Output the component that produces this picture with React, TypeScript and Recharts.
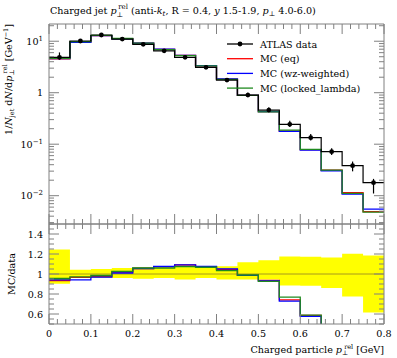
import React from 'react';
import { ComposedChart, Line, Scatter, ErrorBar, Area, XAxis, YAxis, ReferenceLine } from 'recharts';

// bin edges of the p_T^rel histogram [GeV]
const binEdges = [0, 0.05, 0.1, 0.15, 0.2, 0.25, 0.3, 0.35, 0.4, 0.45, 0.5, 0.55, 0.6, 0.65, 0.7, 0.75, 0.8];

// ATLAS data, with relative errors
const atlasValues = [4.87, 10.1, 13.2, 11.0, 8.7, 6.5, 4.87, 3.11, 1.76, 0.9, 0.46, 0.243, 0.134, 0.0715, 0.0383, 0.0179];
const atlasRelErrUp = [0.245, 0.043, 0.05, 0.06, 0.067, 0.06, 0.087, 0.077, 0.077, 0.117, 0.137, 0.175, 0.172, 0.165, 0.202, 0.185];
const atlasRelErrDown = [0.098, 0.04, 0.034, 0.04, 0.047, 0.04, 0.056, 0.04, 0.056, 0.056, 0.056, 0.114, 0.117, 0.14, 0.224, 0.384];

// MC predictions
const mcEq = [4.55, 9.75, 12.87, 11.22, 9.18, 6.96, 5.31, 3.33, 1.84, 0.887, 0.43, 0.18, 0.0784, 0.0312, 0.0114, 0.0049];
const mcWz = [4.58, 9.51, 12.8, 11.11, 9.18, 6.99, 5.31, 3.35, 1.85, 0.887, 0.428, 0.177, 0.0772, 0.0305, 0.0107, 0.0055];
const mcLocked = [4.65, 9.8, 13.0, 11.29, 9.22, 6.89, 5.23, 3.32, 1.82, 0.891, 0.426, 0.187, 0.079, 0.0315, 0.0111, 0.0048];

// ticks
const xMajorTicks = [0, 0.1, 0.2, 0.3, 0.4, 0.5, 0.6, 0.7, 0.8];
const xTickLabels = ['0', '0.1', '0.2', '0.3', '0.4', '0.5', '0.6', '0.7', '0.8'];
const yMainMajorTicks = [0.01, 0.1, 1, 10];
const yMainTickLabels = [['10', '−2'], ['10', '−1'], ['1', ''], ['10', '1']];
const yRatioMajorTicks = [0.6, 0.8, 1, 1.2, 1.4];
const yRatioTickLabels = ['0.6', '0.8', '1', '1.2', '1.4'];

const FONT = '"DejaVu Serif", serif';
const FS = 9.6;
const FRAME = '#808080';
const MAIN_DOMAIN: [number, number] = [0.00282, 21.6];
const RATIO_DOMAIN: [number, number] = [0.5, 1.5];

const xAllTicks: number[] = [];
for (let i = 0; i <= 40; i++) xAllTicks.push(Math.round(i * 2) / 100);
const yMainAllTicks: number[] = [];
for (let k = -3; k <= 1; k++) {
  for (let m = 1; m <= 9; m++) {
    const v = parseFloat((m * Math.pow(10, k)).toPrecision(3));
    if (v >= MAIN_DOMAIN[0] && v <= MAIN_DOMAIN[1]) yMainAllTicks.push(v);
  }
}
const yRatioAllTicks: number[] = [];
for (let i = 10; i <= 30; i++) yRatioAllTicks.push(i * 5 / 100);

const near = (a: number, b: number) => Math.abs(a - b) < 1e-6 * Math.max(1, Math.abs(b));

// one row per bin edge, last edge repeats the last bin so steps close
const stepRows = binEdges.map((x, i) => {
  const j = Math.min(i, atlasValues.length - 1);
  return {
    x,
    data: atlasValues[j],
    eq: mcEq[j],
    wz: mcWz[j],
    locked: mcLocked[j],
    rEq: mcEq[j] / atlasValues[j],
    rWz: mcWz[j] / atlasValues[j],
    rLocked: mcLocked[j] / atlasValues[j],
    band: [1 - atlasRelErrDown[j], 1 + atlasRelErrUp[j]],
  };
});

const points = atlasValues.map((v, i) => ({
  x: (binEdges[i] + binEdges[i + 1]) / 2,
  y: v,
  err: [v * atlasRelErrDown[i], v * atlasRelErrUp[i]],
}));

function makeXTick(side: 'top' | 'bottom', labels: boolean) {
  return (props: any) => {
    const { x, y, payload } = props;
    const idx = xMajorTicks.findIndex((t) => near(payload.value, t));
    const len = idx >= 0 ? 10 : 5;
    const y2 = side === 'bottom' ? y - len : y + len;
    return (
      <g>
        <line x1={x} x2={x} y1={y} y2={y2} stroke={FRAME} />
        {labels && idx >= 0 && (
          <text x={x} y={y + 13} textAnchor="middle" fontSize={FS} fontFamily={FONT} fill="#000">
            {xTickLabels[idx]}
          </text>
        )}
      </g>
    );
  };
}

function makeYTick(side: 'left' | 'right', kind: 'main' | 'ratio', labels: boolean) {
  return (props: any) => {
    const { x, y, payload } = props;
    const majors = kind === 'main' ? yMainMajorTicks : yRatioMajorTicks;
    const idx = majors.findIndex((t) => near(payload.value, t));
    const len = idx >= 0 ? 10 : 5;
    const x2 = side === 'left' ? x + len : x - len;
    let label: React.ReactNode = null;
    if (labels && idx >= 0) {
      if (kind === 'main') {
        const [base, exp] = yMainTickLabels[idx];
        label = (
          <text x={x - 6} y={y + 3.5} textAnchor="end" fontSize={FS} fontFamily={FONT} fill="#000">
            {base}
            {exp && (
              <tspan dy={-4} fontSize={7}>
                {exp}
              </tspan>
            )}
          </text>
        );
      } else {
        label = (
          <text x={x - 6} y={y + 3.5} textAnchor="end" fontSize={FS} fontFamily={FONT} fill="#000">
            {yRatioTickLabels[idx]}
          </text>
        );
      }
    }
    return (
      <g>
        <line x1={x} x2={x2} y1={y} y2={y} stroke={FRAME} />
        {label}
      </g>
    );
  };
}

const axisCommon = { tickSize: 0, tickMargin: 0, interval: 0 as const, tickLine: false, axisLine: { stroke: FRAME } };

export default function App() {
  const legend = [
    { label: 'ATLAS data', color: '#000', dot: true },
    { label: 'MC (eq)', color: '#ff0000', dot: false },
    { label: 'MC (wz-weighted)', color: '#0000ff', dot: false },
    { label: 'MC (locked_lambda)', color: '#1f8a1f', dot: false },
  ];

  return (
    <div style={{ position: 'absolute', left: 0, top: 0, width: 397, height: 358, background: '#fff' }}>
      {/* main panel */}
      <div style={{ position: 'absolute', left: 0, top: 0 }}>
        <ComposedChart width={397} height={358} data={stepRows} margin={{ top: 23, left: 19, right: 12, bottom: 133 }}>
          <XAxis xAxisId="x" dataKey="x" type="number" domain={[0, 0.8]} ticks={xAllTicks} height={1}
            {...axisCommon} tick={makeXTick('bottom', false)} />
          <XAxis xAxisId="xt" dataKey="x" type="number" domain={[0, 0.8]} ticks={xAllTicks} height={1} orientation="top"
            {...axisCommon} tick={makeXTick('top', false)} />
          <YAxis yAxisId="y" type="number" scale="log" domain={MAIN_DOMAIN} allowDataOverflow ticks={yMainAllTicks} width={30}
            {...axisCommon} tick={makeYTick('left', 'main', true)} />
          <YAxis yAxisId="yr" type="number" scale="log" domain={MAIN_DOMAIN} allowDataOverflow ticks={yMainAllTicks} width={1} orientation="right"
            {...axisCommon} tick={makeYTick('right', 'main', false)} />
          <Line xAxisId="x" yAxisId="y" type="stepAfter" dataKey="eq" stroke="#ff0000" strokeWidth={1.3} dot={false} isAnimationActive={false} />
          <Line xAxisId="x" yAxisId="y" type="stepAfter" dataKey="wz" stroke="#0000ff" strokeWidth={1.3} dot={false} isAnimationActive={false} />
          <Line xAxisId="x" yAxisId="y" type="stepAfter" dataKey="locked" stroke="#1f8a1f" strokeWidth={1.3} dot={false} isAnimationActive={false} />
          <Line xAxisId="x" yAxisId="y" type="stepAfter" dataKey="data" stroke="#000" strokeWidth={1.2} dot={false} isAnimationActive={false} />
          <Scatter xAxisId="x" yAxisId="y" data={points} dataKey="y" isAnimationActive={false}
            shape={(p: any) => <circle cx={p.cx} cy={p.cy} r={2.4} fill="#000" />}>
            <ErrorBar dataKey="err" direction="y" width={0} stroke="#000" strokeWidth={1.2} isAnimationActive={false} />
          </Scatter>
        </ComposedChart>
      </div>

      {/* ratio panel */}
      <div style={{ position: 'absolute', left: 0, top: 0 }}>
        <ComposedChart width={397} height={358} data={stepRows} margin={{ top: 223, left: 19, right: 12, bottom: 33 }}>
          <XAxis xAxisId="x" dataKey="x" type="number" domain={[0, 0.8]} ticks={xAllTicks} height={1}
            {...axisCommon} tick={makeXTick('bottom', true)} />
          <XAxis xAxisId="xt" dataKey="x" type="number" domain={[0, 0.8]} ticks={xAllTicks} height={1} orientation="top"
            {...axisCommon} tick={makeXTick('top', false)} />
          <YAxis yAxisId="y" type="number" domain={RATIO_DOMAIN} allowDataOverflow ticks={yRatioAllTicks} width={30}
            {...axisCommon} tick={makeYTick('left', 'ratio', true)} />
          <YAxis yAxisId="yr" type="number" domain={RATIO_DOMAIN} allowDataOverflow ticks={yRatioAllTicks} width={1} orientation="right"
            {...axisCommon} tick={makeYTick('right', 'ratio', false)} />
          <Area xAxisId="x" yAxisId="y" type="stepAfter" dataKey="band" fill="#ffff00" fillOpacity={1} stroke="none" isAnimationActive={false} />
          <ReferenceLine xAxisId="x" yAxisId="y" y={1} stroke="#a69a1c" strokeWidth={1} />
          <Line xAxisId="x" yAxisId="y" type="stepAfter" dataKey="rEq" stroke="#ff0000" strokeWidth={1.3} dot={false} isAnimationActive={false} />
          <Line xAxisId="x" yAxisId="y" type="stepAfter" dataKey="rWz" stroke="#0000ff" strokeWidth={1.3} dot={false} isAnimationActive={false} />
          <Line xAxisId="x" yAxisId="y" type="stepAfter" dataKey="rLocked" stroke="#1f8a1f" strokeWidth={1.3} dot={false} isAnimationActive={false} />
        </ComposedChart>
      </div>

      {/* title, axis titles, legend */}
      <svg width={397} height={358} style={{ position: 'absolute', left: 0, top: 0, pointerEvents: 'none' }} fontFamily={FONT}>
        <text x={50} y={14} fontSize={FS} fill="#000">
          Charged jet <tspan fontStyle="italic">p</tspan>
          <tspan dy={3} fontSize={7}>⊥</tspan>
          <tspan dx={-5} dy={-8} fontSize={7}>rel</tspan>
          <tspan dy={5}> (anti-</tspan>
          <tspan fontStyle="italic">k</tspan>
          <tspan dy={2} fontSize={7} fontStyle="italic">t</tspan>
          <tspan dy={-2}>, R = 0.4, </tspan>
          <tspan fontStyle="italic">y</tspan> 1.5-1.9, <tspan fontStyle="italic">p</tspan>
          <tspan dy={2} fontSize={7}>⊥</tspan>
          <tspan dy={-2}> 4.0-6.0)</tspan>
        </text>

        <text x={12} y={24} transform="rotate(-90 12 24)" textAnchor="end" fontSize={FS} fill="#000">
          1/<tspan fontStyle="italic">N</tspan>
          <tspan dy={2} fontSize={6.5}>jet</tspan>
          <tspan dy={-2}> d</tspan>
          <tspan fontStyle="italic">N</tspan>/d<tspan fontStyle="italic">p</tspan>
          <tspan dy={2} fontSize={6.5}>⊥</tspan>
          <tspan dx={-4} dy={-7} fontSize={6.5}>rel</tspan>
          <tspan dy={5}> [GeV</tspan>
          <tspan dy={-4} fontSize={6.5}>−1</tspan>
          <tspan dy={4}>]</tspan>
        </text>

        <text x={15} y={274} transform="rotate(-90 15 274)" textAnchor="middle" fontSize={FS} fill="#000">
          MC/data
        </text>

        <text x={384} y={353} textAnchor="end" fontSize={FS} fill="#000">
          Charged particle <tspan fontStyle="italic">p</tspan>
          <tspan dy={2} fontSize={6.5}>⊥</tspan>
          <tspan dx={-4} dy={-6.5} fontSize={6.5}>rel</tspan>
          <tspan dy={4.5}> [GeV]</tspan>
        </text>

        {legend.map((item, i) => {
          const y = 44 + i * 14.7;
          return (
            <g key={item.label}>
              <line x1={227} x2={253} y1={y} y2={y} stroke={item.color} strokeWidth={1.3} />
              {item.dot && <circle cx={240} cy={y} r={2.4} fill="#000" />}
              <text x={260} y={y + 3.5} fontSize={FS} fill="#000">
                {item.label}
              </text>
            </g>
          );
        })}
      </svg>
    </div>
  );
}
